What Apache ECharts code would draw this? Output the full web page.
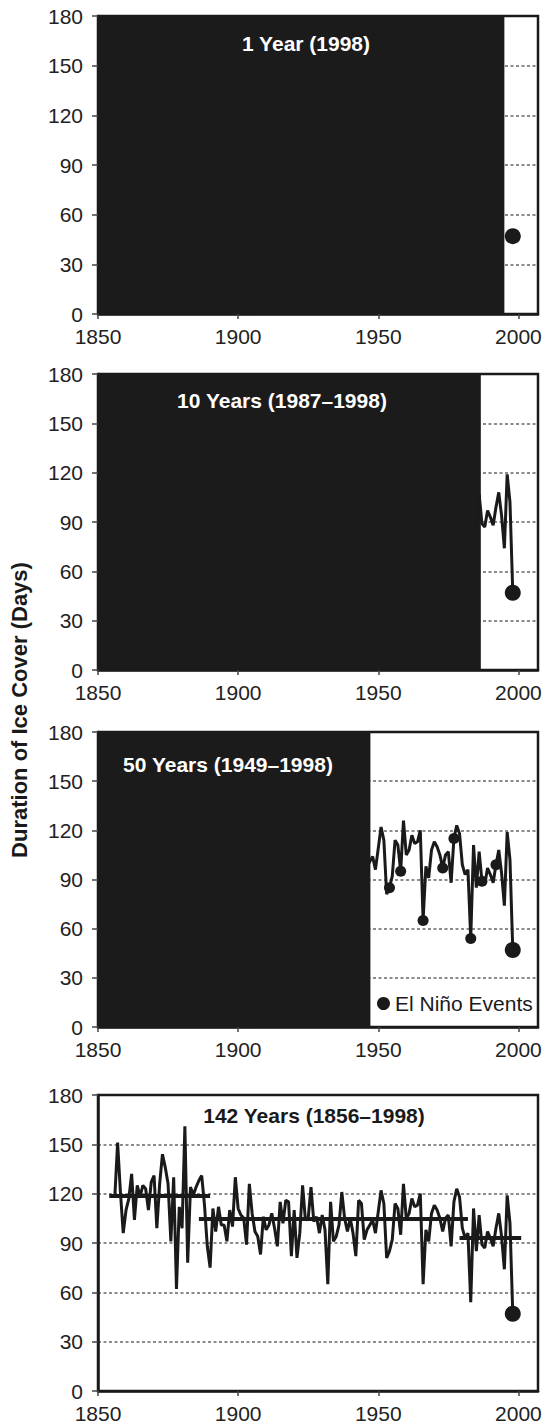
<!DOCTYPE html>
<html>
<head>
<meta charset="utf-8">
<title>Duration of Ice Cover</title>
<script src="https://cdn.jsdelivr.net/npm/echarts@6/dist/echarts.min.js"></script>
<style>
  html, body { margin: 0; padding: 0; background: #fff; }
  #chart { width: 547px; height: 1427px; }
</style>
</head>
<body>
<div id="chart"></div>
<script>
// Ice cover duration (days), one value per winter, plotted at the ending year
const firstYear = 1856;
const iceDays = [
  118, 151, 121, 96,
  110, 117, 132, 104, 125, 118, 125, 123, 110, 127,
  131, 99, 126, 144, 136, 126, 91, 130, 62, 112,
  99, 161, 78, 124, 119, 124, 128, 131, 113, 88,
  75, 111, 97, 112, 101, 101, 91, 110, 100, 130,
  111, 107, 105, 89, 126, 108, 97, 94, 83, 106,
  98, 101, 108, 99, 88, 115, 102, 116, 115, 82,
  110, 81, 96, 125, 104, 105, 124, 103, 106, 96,
  107, 98, 65, 115, 91, 94, 101, 121, 105, 97,
  105, 96, 82, 116, 114, 92, 98, 101, 104, 96,
  109, 122, 114, 81, 85, 92, 114, 111, 95, 126,
  105, 108, 117, 112, 113, 120, 65, 98, 91, 108,
  113, 110, 105, 97, 105, 107, 88, 115, 123, 118,
  99, 93, 96, 54, 111, 85, 107, 89, 87, 97,
  93, 88, 99, 108, 94, 74, 119, 102, 47
];

// El Niño winters marked in the 50-year panel
const ninoYears = [1954, 1958, 1966, 1973, 1977, 1983, 1987, 1992];
const lastYear = 1998;

// Period means shown in the 142-year panel: [from, to, days]
const meanPeriods = [
  [1854, 1890, 119],
  [1886, 1982, 105],
  [1979, 2001, 93]
];

// Panels: title, end of the blacked-out span, first year of line drawn
const panelTitles = ['1 Year (1998)', '10 Years (1987\u20131998)', '50 Years (1949\u20131998)', '142 Years (1856\u20131998)'];
const hiddenUntil = [1995, 1986.6, 1947.2, null];
const lineFrom = [null, 1985, 1946, 1856];

const xTicks = [1850, 1900, 1950, 2000];

// Layout
const gridTop = [16, 374, 732, 1095];
const gridHeight = [298, 296, 295, 296];
const titlePos = [[306, 33], [282, 390], [228, 754], [314, 1105]];
const FONT = '"Liberation Sans", Arial, sans-serif';
const INK = '#1a1a1a';

const chart = echarts.init(document.getElementById('chart'), null, { renderer: 'svg' });

const yearData = iceDays.map((v, i) => [firstYear + i, v]);
const valueAt = year => iceDays[year - firstYear];

function buildAxes() {
  const grid = [], xAxis = [], yAxis = [];
  gridTop.forEach((top, i) => {
    grid.push({
      left: 98, right: 9, top: top, height: gridHeight[i],
      show: true, borderColor: INK, borderWidth: 2.5, backgroundColor: '#fff'
    });
    xAxis.push({
      type: 'value', gridIndex: i, min: 1850, max: 2007,
      axisLine: { show: true, onZero: false, lineStyle: { color: INK, width: 2.5 } },
      axisTick: { show: true, length: 5, customValues: xTicks, lineStyle: { color: '#444', width: 1.5 } },
      axisLabel: {
        customValues: xTicks, formatter: v => String(v),
        margin: 12, fontSize: 21, fontFamily: FONT, color: '#222'
      },
      splitLine: { show: false }
    });
    yAxis.push({
      type: 'value', gridIndex: i, min: 0, max: 180, interval: 30,
      axisLine: { show: true, lineStyle: { color: INK, width: 2.5 } },
      axisTick: { show: true, length: 6, lineStyle: { color: '#444', width: 1.5 } },
      axisLabel: { margin: 15, fontSize: 21, fontFamily: FONT, color: '#222' },
      splitLine: {
        show: true, showMinLine: false, showMaxLine: false,
        lineStyle: { color: '#666', width: 1.5, type: [3, 2.5] }
      }
    });
  });
  return { grid, xAxis, yAxis };
}

function buildSeries() {
  const series = [];
  gridTop.forEach((top, i) => {
    // Black mask over the years outside the panel's window
    if (hiddenUntil[i] !== null) {
      series.push({
        type: 'line', xAxisIndex: i, yAxisIndex: i, data: [], silent: true,
        markArea: {
          silent: true,
          itemStyle: { color: '#1b1b1b', opacity: 1 },
          data: [[{ coord: [1850, 0] }, { coord: [hiddenUntil[i], 180] }]]
        }
      });
    }
    if (lineFrom[i] !== null) {
      series.push({
        type: 'line', xAxisIndex: i, yAxisIndex: i, z: 3,
        data: yearData.filter(d => d[0] >= lineFrom[i]),
        showSymbol: false, lineStyle: { color: INK, width: 3 },
        markLine: i === 3 ? {
          silent: true, symbol: 'none', label: { show: false },
          lineStyle: { color: INK, width: 4, type: 'solid', opacity: 1 },
          data: meanPeriods.map(p => [{ coord: [p[0], p[2]] }, { coord: [p[1], p[2]] }])
        } : undefined
      });
    }
    if (i === 2) {
      series.push({
        name: 'El Niño Events', type: 'scatter', xAxisIndex: i, yAxisIndex: i, z: 4,
        symbolSize: 11, itemStyle: { color: INK, opacity: 1 },
        data: ninoYears.map(y => [y, valueAt(y)])
      });
    }
    series.push({
      type: 'scatter', xAxisIndex: i, yAxisIndex: i, z: 5,
      symbolSize: 16, itemStyle: { color: INK, opacity: 1 },
      data: [[lastYear, valueAt(lastYear)]]
    });
  });
  return series;
}

function renderChart() {
  const axes = buildAxes();
  chart.setOption({
    animation: false,
    textStyle: { fontFamily: FONT },
    title: panelTitles.map((t, i) => ({
      text: t, left: titlePos[i][0], top: titlePos[i][1], textAlign: 'center', padding: 0,
      textStyle: { fontSize: 21, fontWeight: 'bold', fontFamily: FONT, color: i === 3 ? INK : '#fff' }
    })),
    legend: {
      data: ['El Niño Events'], left: 377, top: 993, padding: 0,
      icon: 'circle', itemWidth: 13, itemHeight: 13, itemGap: 5, selectedMode: false,
      itemStyle: { opacity: 1 },
      textStyle: { fontSize: 21, fontFamily: FONT, color: INK }
    },
    graphic: [{
      type: 'text', x: 19, y: 710, rotation: Math.PI / 2, silent: true,
      style: {
        text: 'Duration of Ice Cover (Days)', fill: INK,
        font: 'bold 22px ' + FONT, textAlign: 'center', textVerticalAlign: 'middle'
      }
    }],
    grid: axes.grid,
    xAxis: axes.xAxis,
    yAxis: axes.yAxis,
    series: buildSeries()
  });
}

renderChart();
</script>
</body>
</html>
